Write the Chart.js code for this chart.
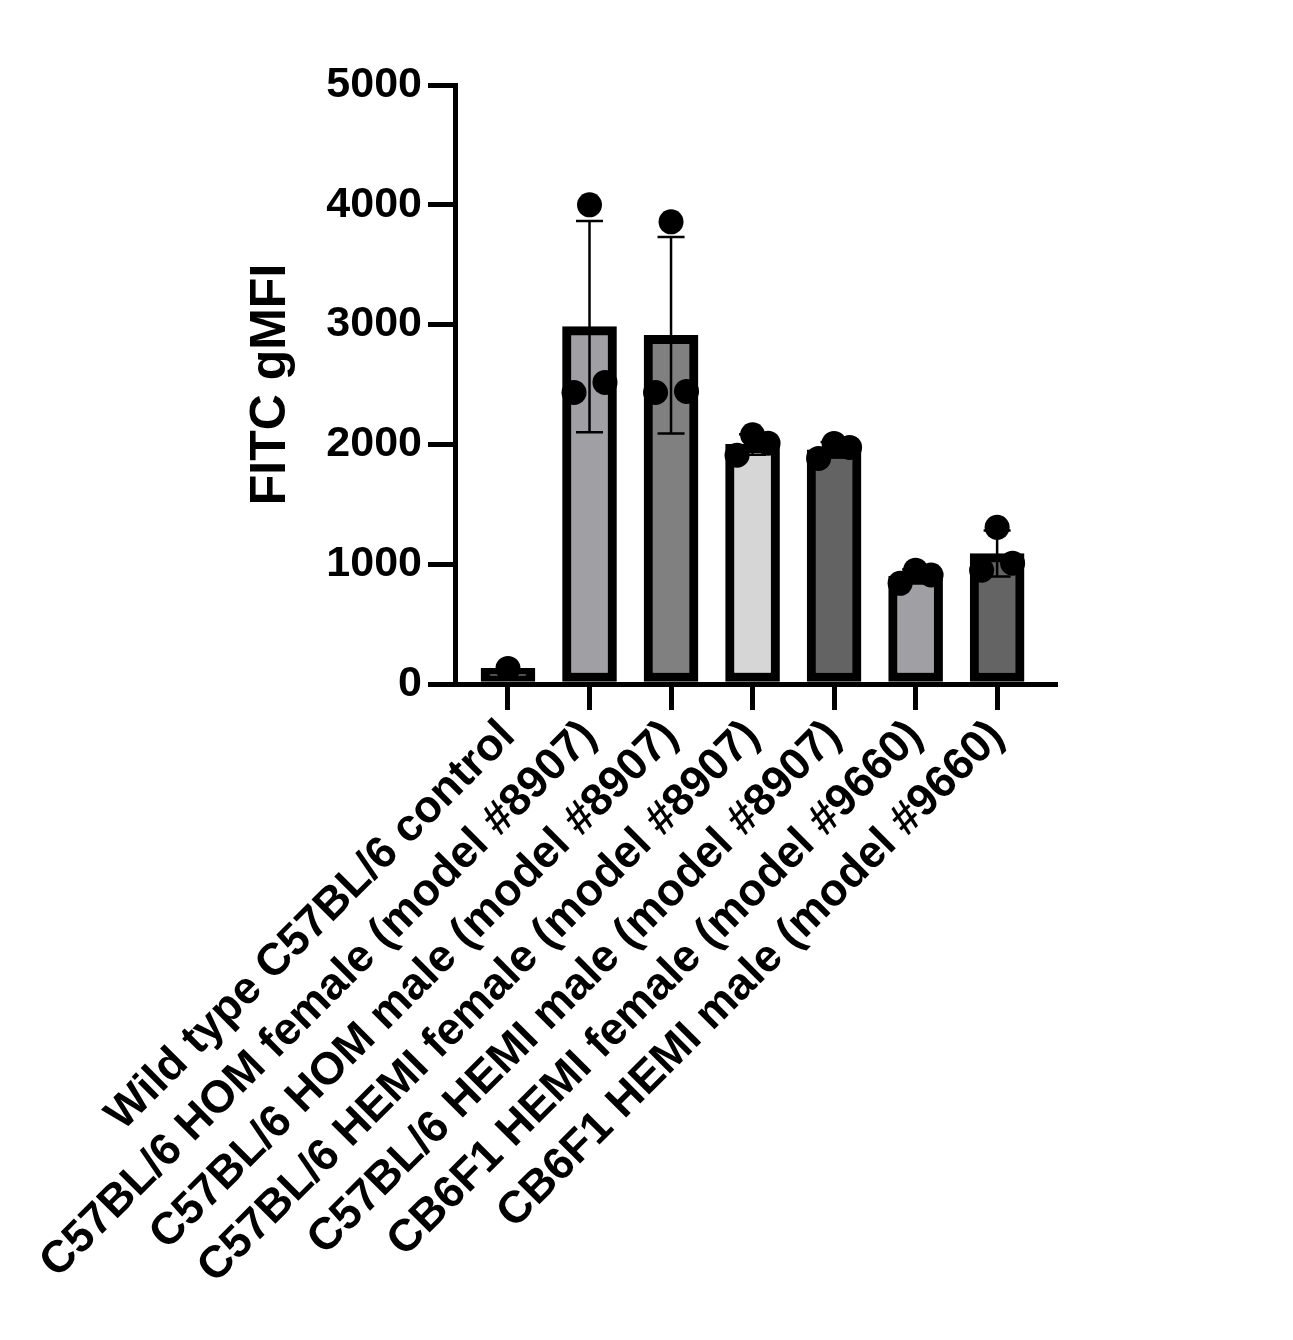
<!DOCTYPE html>
<html>
<head>
<meta charset="utf-8">
<script src="https://cdn.jsdelivr.net/npm/chart.js@4.4.0/dist/chart.umd.min.js"></script>
<style>
  html, body { margin: 0; padding: 0; background: #fff; }
  #wrap { width: 1293px; height: 1340px; }
</style>
</head>
<body>
<div id="wrap"><canvas id="fitcChart" width="1293" height="1340"></canvas></div>
<script>
// groups on the x axis
const categories = [
    'Wild type C57BL/6 control',
    'C57BL/6 HOM female (model #8907)',
    'C57BL/6 HOM male (model #8907)',
    'C57BL/6 HEMI female (model #8907)',
    'C57BL/6 HEMI male (model #8907)',
    'CB6F1 HEMI female (model #9660)',
    'CB6F1 HEMI male (model #9660)'
];

// replicate values (left / middle / right dot in each group)
const repLeft  = [null, 2433, 2433, 1910, 1883, 840, 950];
const repMid   = [130, 4000, 3858, 2080, 2008, 950, 1308];
const repRight = [null, 2517, 2442, 2010, 1975, 910, 1008];

const yTicks = [0, 1000, 2000, 3000, 4000, 5000];

const barColors = ['#858585', '#a0a0a4', '#808080', '#d6d6d6', '#636363', '#a0a0a4', '#646464'];

const FONT = 'Liberation Sans';
const SPREAD = 0.19;

// per group stats
const groups = categories.map((c, i) => [repLeft[i], repMid[i], repRight[i]]);
const stats = groups.map(vals => {
    const v = vals.filter(x => x !== null);
    const mean = v.reduce((a, b) => a + b, 0) / v.length;
    let sd = 0;
    if (v.length > 1) {
        sd = Math.sqrt(v.reduce((a, b) => a + (b - mean) * (b - mean), 0) / (v.length - 1));
    }
    return { mean: mean, sd: sd, n: v.length };
});

const barData = stats.map((s, i) => ({ x: i, y: s.mean }));
const dotData = [];
groups.forEach((vals, i) => {
    vals.forEach((v, k) => {
        if (v !== null) dotData.push({ x: i + (k - 1) * SPREAD, y: v });
    });
});

// error bars (mean +/- SD), drawn over the bars and under the dots
const errorBars = {
    id: 'errorBars',
    afterDatasetDraw(chart, args) {
        if (args.index !== 1) return;
        const ctx = chart.ctx;
        const xs = chart.scales.x, ys = chart.scales.y;
        ctx.save();
        ctx.strokeStyle = '#000';
        ctx.lineWidth = 2.5;
        stats.forEach((s, i) => {
            if (s.n < 2) return;
            const px = xs.getPixelForValue(i);
            const top = ys.getPixelForValue(s.mean + s.sd);
            const bot = ys.getPixelForValue(s.mean - s.sd);
            ctx.beginPath();
            ctx.moveTo(px, top); ctx.lineTo(px, bot);
            ctx.moveTo(px - 13.5, top); ctx.lineTo(px + 13.5, top);
            ctx.moveTo(px - 13.5, bot); ctx.lineTo(px + 13.5, bot);
            ctx.stroke();
        });
        ctx.restore();
    }
};

const ctx = document.getElementById('fitcChart').getContext('2d');
new Chart(ctx, {
    data: {
        datasets: [{
            type: 'scatter',
            data: dotData,
            order: 1,
            pointRadius: 12.5,
            pointBackgroundColor: '#000',
            pointBorderWidth: 0
        }, {
            type: 'bar',
            data: barData,
            order: 2,
            backgroundColor: barColors,
            borderColor: '#000',
            borderWidth: 9,
            borderSkipped: false,
            barThickness: 54
        }]
    },
    options: {
        responsive: false,
        animation: false,
        events: [],
        layout: {
            padding: { top: 85, left: 241, right: 238, bottom: 0 }
        },
        plugins: {
            legend: { display: false },
            tooltip: { enabled: false }
        },
        scales: {
            x: {
                type: 'linear',
                min: -0.65,
                max: 6.71,
                offset: false,
                afterBuildTicks: function(scale) {
                    scale.ticks = categories.map((c, i) => ({ value: i }));
                },
                afterFit: function(scale) {
                    scale.height = 656;
                },
                grid: {
                    offset: false,
                    drawOnChartArea: false,
                    drawTicks: true,
                    tickLength: 26,
                    lineWidth: 5,
                    color: '#000'
                },
                border: { display: true, width: 5, color: '#000' },
                ticks: {
                    autoSkip: false,
                    minRotation: 45,
                    maxRotation: 45,
                    padding: 0,
                    color: '#000',
                    font: { family: FONT, size: 45, weight: 'bold' },
                    callback: function(value) { return categories[value]; }
                }
            },
            y: {
                min: 0,
                max: 5000,
                afterBuildTicks: function(scale) {
                    scale.ticks = yTicks.map(v => ({ value: v }));
                },
                afterFit: function(scale) {
                    scale.width = 214;
                },
                grid: {
                    drawOnChartArea: false,
                    drawTicks: true,
                    tickLength: 27,
                    lineWidth: 5,
                    color: '#000'
                },
                border: { display: true, width: 5, color: '#000' },
                ticks: {
                    padding: 6,
                    color: '#000',
                    font: { family: FONT, size: 43, weight: 'bold' },
                    callback: function(value) { return String(value); }
                },
                title: {
                    display: true,
                    text: 'FITC gMFI',
                    color: '#000',
                    padding: { top: 0, bottom: 0 },
                    font: { family: FONT, size: 50, weight: 'bold' }
                }
            }
        }
    },
    plugins: [errorBars]
});
</script>
</body>
</html>
